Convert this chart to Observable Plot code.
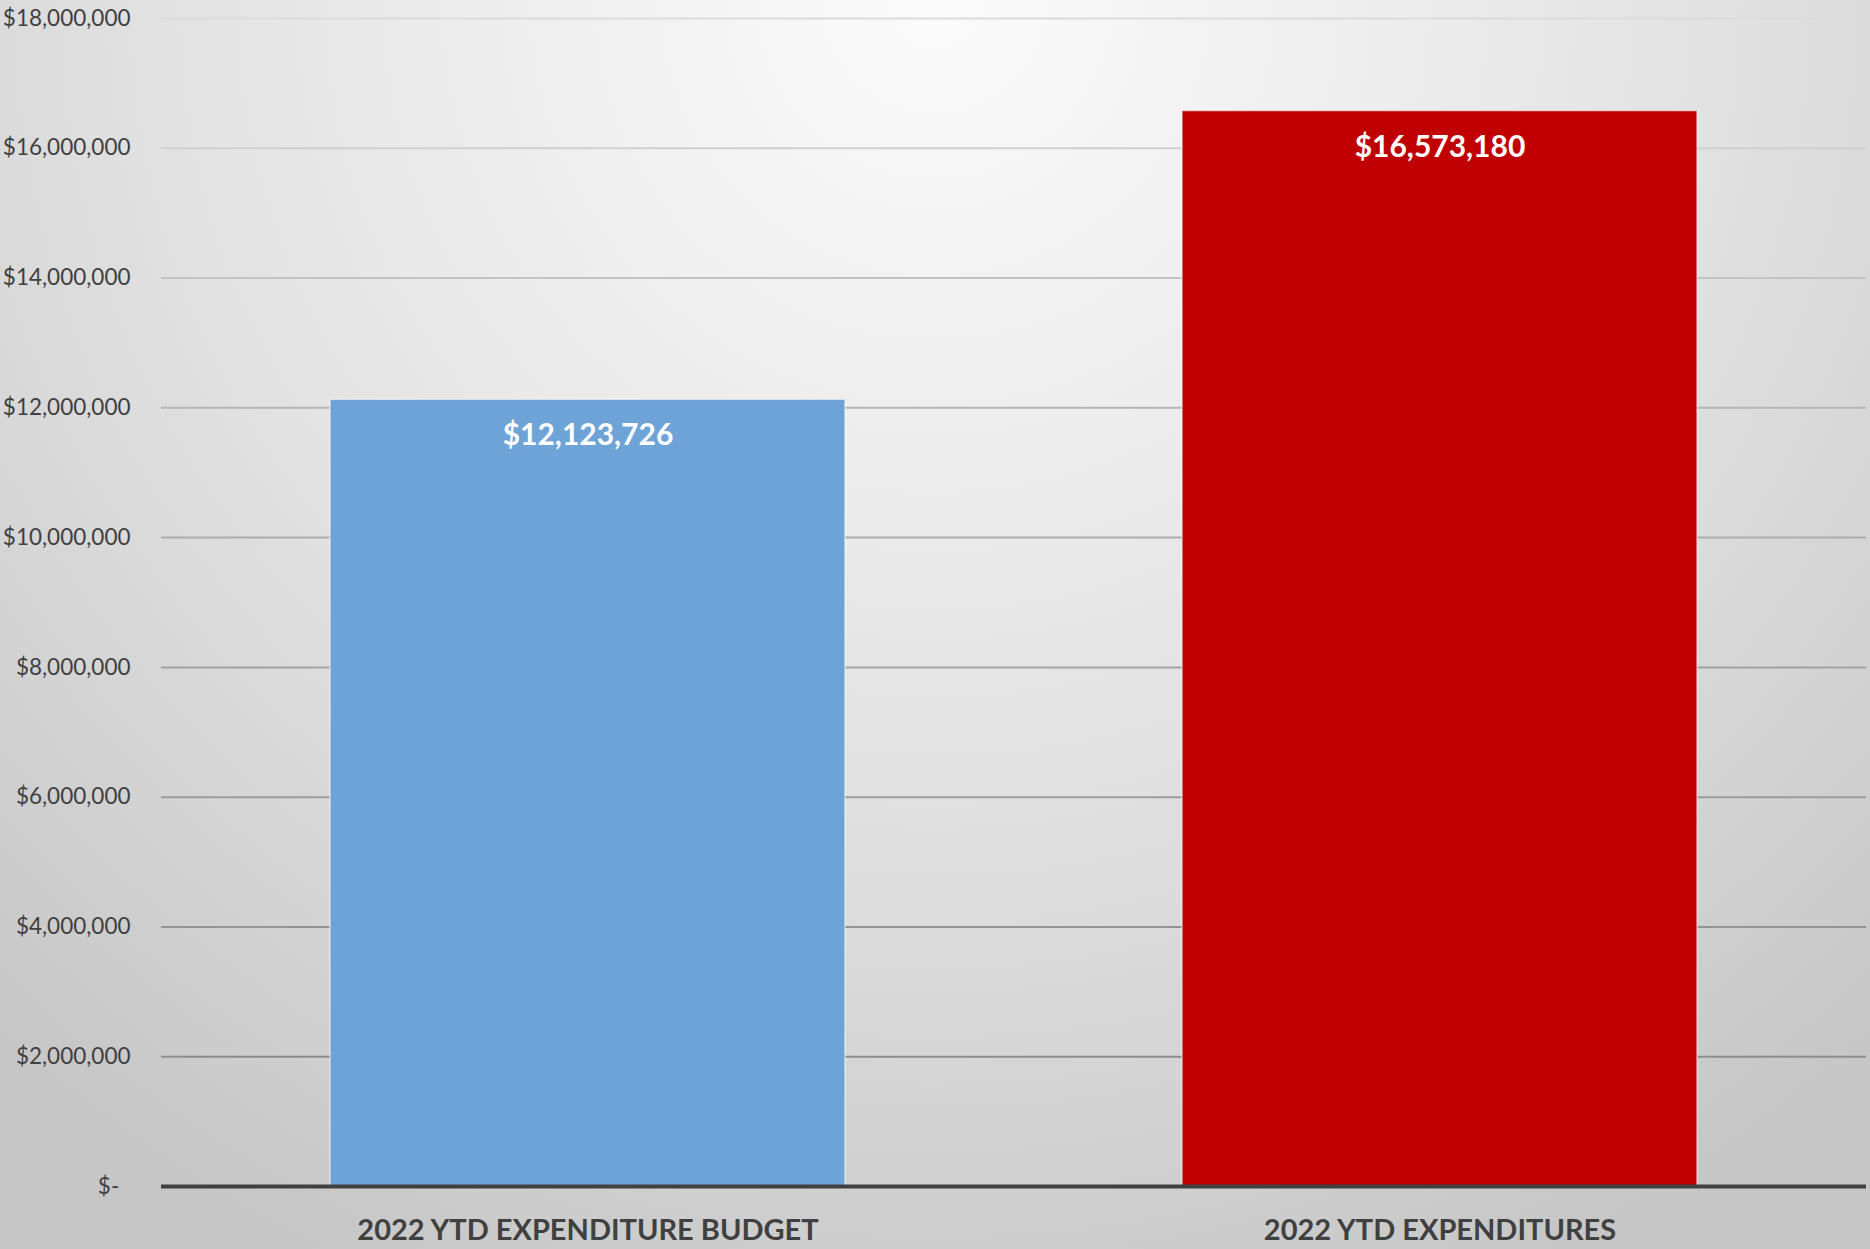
<!DOCTYPE html>
<html>
<head>
<meta charset="utf-8">
<script src="https://cdn.jsdelivr.net/npm/d3@7"></script>
<script src="https://cdn.jsdelivr.net/npm/@observablehq/plot@0.6"></script>
<style>
  html, body { margin: 0; padding: 0; }
  body {
    width: 1870px; height: 1249px; overflow: hidden;
    background: radial-gradient(ellipse 1400px 1400px at 50% 0%, #fbfbfb 0%, #eeeeee 30%, #e2e2e2 55%, #d3d3d3 80%, #c6c6c6 100%);
    font-family: Lato, "Open Sans", sans-serif;
  }
  #chart svg { display: block; }
</style>
</head>
<body>
<div id="chart"></div>
<script>
const categories = ["2022 YTD EXPENDITURE BUDGET", "2022 YTD EXPENDITURES"];
const values = [12123726, 16573180];
const barColors = ["#6DA3D7", "#C00000"];
const yTicks = [0, 2000000, 4000000, 6000000, 8000000, 10000000, 12000000, 14000000, 16000000, 18000000];

const data = categories.map((c, i) => ({category: c, value: values[i]}));
const money = d3.format("$,");
const tickFmt = d => d === 0 ? "$-\u2002" : money(d);

const chart = Plot.plot({
  width: 1870,
  height: 1249,
  marginLeft: 161,
  marginRight: 4,
  marginTop: 18,
  marginBottom: 63,
  style: {background: "transparent", fontFamily: "Lato, 'Open Sans', sans-serif"},
  x: {domain: categories, paddingInner: 0.396, paddingOuter: 0.198, label: null},
  y: {domain: [0, 18000000], label: null},
  color: {domain: categories, range: barColors},
  marks: [
    Plot.ruleY(yTicks.filter(d => d > 0), {stroke: "#aaaaaa", strokeWidth: 2, className: "gridrules"}),
    Plot.barY(data, {x: "category", y: "value", fill: "category", stroke: "#ffffff", strokeOpacity: 0.55, strokeWidth: 1.5}),
    Plot.ruleY([0], {stroke: "#404040", strokeWidth: 4}),
    Plot.text(data, {x: "category", y: "value", text: d => money(d.value), dy: 36, fill: "white", fontSize: 30, fontWeight: "bold"}),
    Plot.axisY({ticks: yTicks, tickFormat: tickFmt, tickSize: 0, tickPadding: 31, fontSize: 22.5, color: "#404040", label: null}),
    Plot.axisX({tickSize: 0, tickPadding: 33, fontSize: 29, fontWeight: "bold", color: "#404040", label: null})
  ]
});

const svg = d3.select(chart);
const defs = svg.insert("defs", ":first-child");
const grad = defs.append("linearGradient")
  .attr("id", "gridGrad")
  .attr("gradientUnits", "userSpaceOnUse")
  .attr("x1", 0).attr("y1", 17).attr("x2", 0).attr("y2", 1186);
[[0, "#dcdcdc"], [0.12, "#cfcfcf"], [0.33, "#b6b6b6"], [0.55, "#a3a3a3"], [0.9, "#8c8c8c"], [1, "#888888"]]
  .forEach(([o, c]) => grad.append("stop").attr("offset", o).attr("stop-color", c));
svg.selectAll(".gridrules").attr("stroke", "url(#gridGrad)");
svg.selectAll(".gridrules line").attr("stroke", "url(#gridGrad)");

document.getElementById("chart").appendChild(chart);
</script>
</body>
</html>
